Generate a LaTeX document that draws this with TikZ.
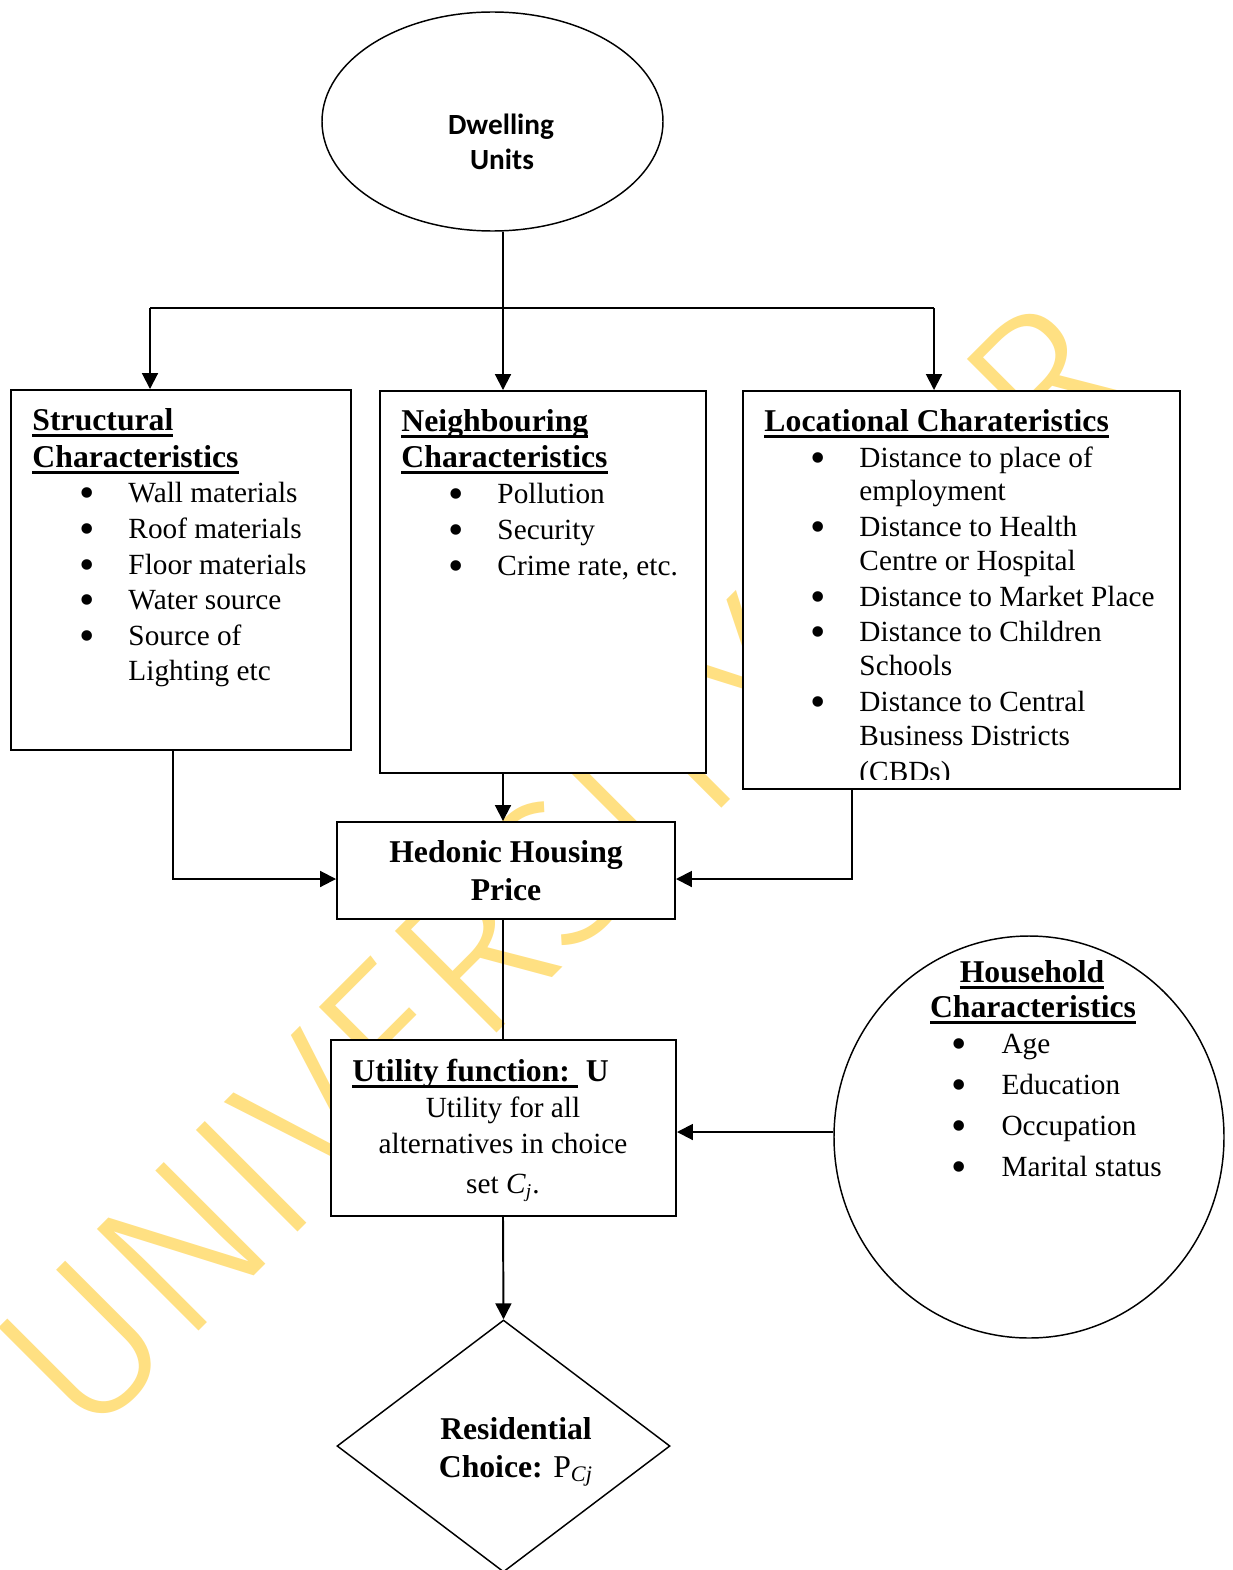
\documentclass[tikz,border=0pt]{standalone}
\usepackage{fontspec}
\setmainfont{Liberation Serif}
\newfontfamily\carlito{Carlito}
\newfontfamily\wmfont{Fira Sans Light}
\usetikzlibrary{shapes.geometric,arrows.meta}
\definecolor{wmyellow}{RGB}{255,224,130}
\newcommand\myul[1]{\setbox0\hbox{#1}\rlap{\rule[-3pt]{\wd0}{1.2pt}}\box0}
\newcommand\bodyf{\fontsize{12}{14.6}\selectfont}
\newcommand\headf{\bfseries\fontsize{13}{14.6}\selectfont}
\newcommand\bu{\raisebox{-2.1pt}{\scalebox{1.5}{•}}}
\begin{document}
\begin{tikzpicture}[x=0.41pt,y=-0.41pt,
  box/.style={draw, line width=0.8pt, fill=white, rectangle, inner sep=0pt},
  oval/.style={draw, line width=0.6pt, fill=white, ellipse, inner sep=0pt},
  arr/.style={line width=0.8pt, -{Triangle[length=6.5pt,width=6.5pt]}},
  conn/.style={line width=0.8pt},
  tx/.style={anchor=base west, inner sep=0pt, font=\bodyf},
  txc/.style={anchor=base, inner sep=0pt, font=\bodyf},
  hd/.style={anchor=base west, inner sep=0pt, font=\headf},
  hdc/.style={anchor=base, inner sep=0pt, font=\headf}]
\useasboundingbox (0,0) rectangle (1232,1570);
\clip (0,0) rectangle (1232,1570);
\fill[white] (0,0) rectangle (1232,1570);

% watermark
\node[rotate=45, anchor=base west, inner sep=0pt, text=wmyellow,
      font=\wmfont\fontsize{86}{86}\selectfont] (wm) at (85,1445)
      {UNIVERSITY FOR};

% shapes
\node[oval, minimum width=341*0.41pt, minimum height=219*0.41pt] (dwell) at (492.5,121.5) {};
\node[box, minimum width=340*0.41pt, minimum height=360*0.41pt] (struct) at (181,570) {};
\node[box, minimum width=326*0.41pt, minimum height=382*0.41pt] (neigh) at (543,582) {};
\node[box, minimum width=437*0.41pt, minimum height=398*0.41pt] (loc) at (961.5,590) {};
\node[box, minimum width=338*0.41pt, minimum height=97*0.41pt] (hed) at (506,870.5) {};
\node[box, minimum width=345*0.41pt, minimum height=176*0.41pt] (util) at (503.5,1128) {};
\node[oval, minimum width=390*0.41pt, minimum height=402*0.41pt] (house) at (1029,1137) {};
\node[draw, diamond, line width=0.6pt, fill=white, inner sep=0pt,
      minimum width=333*0.41pt, minimum height=252*0.41pt] (resid) at (503.5,1446) {};

% connectors
\coordinate (split) at (503,308);
\coordinate (tl) at (150,308);
\coordinate (tr) at (934,308);
\coordinate (sl) at (173,879);
\coordinate (sr) at (852,879);
\coordinate (hh) at (0,1132);
\draw[conn] (split |- dwell.south) -- (split);
\draw[conn] (tl) -- (tr);
\draw[arr] (tl) -- (tl |- struct.north);
\draw[arr] (split) -- (split |- neigh.north);
\draw[arr] (tr) -- (tr |- loc.north);
\draw[arr] (split |- neigh.south) -- (split |- hed.north);
\draw[arr] (sl |- struct.south) -- (sl) -- (sl -| hed.west);
\draw[arr] (sr |- loc.south) -- (sr) -- (sr -| hed.east);
\draw[conn] (split |- hed.south) -- (split |- util.north);
\draw[arr] (house.west |- hh) -- (util.east |- hh);
\draw[arr] (split |- util.south) -- (resid.north);

% Dwelling units
\node[anchor=base, inner sep=0pt, font=\carlito\bfseries\fontsize{12}{14}\selectfont] (d1) at (501,135) {Dwelling};
\node[anchor=base, inner sep=0pt, font=\carlito\bfseries\fontsize{12}{14}\selectfont] (d2) at (502,170) {Units};

% structural
\node[hd] (s0) at (32,430) {\myul{Structural}};
\node[hd] (s00) at (32,467) {\myul{Characteristics}};
\node[tx] (sb1) at (79,502) {\bu}; \node[tx] (s1) at (128,502) {Wall materials};
\node[tx] (sb2) at (79,538) {\bu}; \node[tx] (s2) at (128,538) {Roof materials};
\node[tx] (sb3) at (79,574) {\bu}; \node[tx] (s3) at (128,574) {Floor materials};
\node[tx] (sb4) at (79,609) {\bu}; \node[tx] (s4) at (128,609) {Water source};
\node[tx] (sb5) at (79,645) {\bu}; \node[tx] (s5) at (128,645) {Source of};
\node[tx] (s6) at (128,680) {Lighting etc};

% neighbouring
\node[hd] (n0) at (401,431) {\myul{Neighbouring}};
\node[hd] (n00) at (401,467) {\myul{Characteristics}};
\node[tx] (nb1) at (448,503) {\bu}; \node[tx] (n1) at (497,503) {Pollution};
\node[tx] (nb2) at (448,539) {\bu}; \node[tx] (n2) at (497,539) {Security};
\node[tx] (nb3) at (448,575) {\bu}; \node[tx] (n3) at (497,575) {Crime rate, etc.};

% locational
\node[hd] (l0) at (764,431) {\myul{Locational Charateristics}};
\node[tx] (lb1) at (810,467) {\bu}; \node[tx] (l1) at (859,467) {Distance to place of};
\node[tx] (l2) at (859,500) {employment};
\node[tx] (lb3) at (810,536) {\bu}; \node[tx] (l3) at (859,536) {Distance to Health};
\node[tx] (l4) at (859,570) {Centre or Hospital};
\node[tx] (lb5) at (810,606) {\bu}; \node[tx] (l5) at (859,606) {Distance to Market Place};
\node[tx] (lb6) at (810,641) {\bu}; \node[tx] (l6) at (859,641) {Distance to Children};
\node[tx] (l7) at (859,675) {Schools};
\node[tx] (lb8) at (810,711) {\bu}; \node[tx] (l8) at (859,711) {Distance to Central};
\node[tx] (l9) at (859,745) {Business Districts};
\begin{scope}
\clip (744,700) rectangle (1179,779);
\node[tx] (l10) at (859,781) {(CBDs)};
\end{scope}

% hedonic
\node[hdc] (h1) at (506,862) {Hedonic Housing};
\node[hdc] (h2) at (506,900) {Price};

% utility
\node[hd] (u0) at (352,1081) {\myul{Utility function:\ }\ U};
\node[txc] (u1) at (503,1117) {Utility for all};
\node[txc] (u2) at (503,1153) {alternatives in choice};
\node[txc] (u3) at (503,1193) {set \textit{C}\textsubscript{\textit{j}}.};

% household
\node[hdc] (k0) at (1032,982) {\myul{Household}};
\node[hdc] (k00) at (1033,1017) {\myul{Characteristics}};
\node[tx] (kb1) at (951,1053) {\bu}; \node[tx] (k1) at (1001,1053) {Age};
\node[tx] (kb2) at (951,1094) {\bu}; \node[tx] (k2) at (1001,1094) {Education};
\node[tx] (kb3) at (951,1135) {\bu}; \node[tx] (k3) at (1001,1135) {Occupation};
\node[tx] (kb4) at (951,1176) {\bu}; \node[tx] (k4) at (1001,1176) {Marital status};

% residential choice
\node[hdc] (r1) at (516,1439) {Residential};
\node[hdc] (r2) at (516,1477) {Choice: \mdseries P\textsubscript{\itshape Cj}};
\end{tikzpicture}
\end{document}
